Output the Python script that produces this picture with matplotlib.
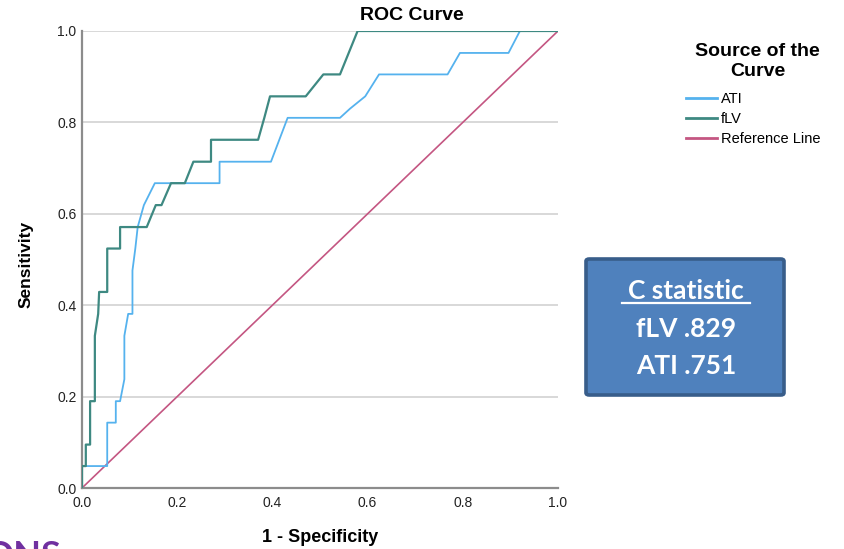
import matplotlib.pyplot as plt
from matplotlib.patches import FancyBboxPatch
from matplotlib.lines import Line2D

# ---------------------------------------------------------
# ROC DATA
# ---------------------------------------------------------

ati_fpr = [0, 0, 0.053, 0.053, 0.071, 0.071, 0.080, 0.089, 0.089, 0.097,
           0.106, 0.106, 0.112, 0.117, 0.130, 0.153, 0.289, 0.289, 0.397,
           0.432, 0.542, 0.563, 0.595, 0.624, 0.768, 0.794, 0.896, 0.920, 1.0]
ati_tpr = [0, 0.048, 0.048, 0.143, 0.143, 0.190, 0.190, 0.238, 0.333, 0.381,
           0.381, 0.476, 0.524, 0.571, 0.619, 0.667, 0.667, 0.714, 0.714,
           0.810, 0.810, 0.830, 0.857, 0.905, 0.905, 0.952, 0.952, 1.0, 1.0]

flv_fpr = [0, 0, 0.008, 0.008, 0.017, 0.017, 0.027, 0.027, 0.034, 0.036,
           0.053, 0.053, 0.080, 0.080, 0.136, 0.155, 0.167, 0.187, 0.216,
           0.234, 0.271, 0.271, 0.370, 0.383, 0.395, 0.470, 0.507, 0.542,
           0.579, 1.0]
flv_tpr = [0, 0.048, 0.048, 0.095, 0.095, 0.190, 0.190, 0.333, 0.381, 0.429,
           0.429, 0.524, 0.524, 0.571, 0.571, 0.619, 0.619, 0.667, 0.667,
           0.714, 0.714, 0.762, 0.762, 0.810, 0.857, 0.857, 0.905, 0.905,
           1.0, 1.0]

ref_x = [0, 1]
ref_y = [0, 1]

ticks = [0.0, 0.2, 0.4, 0.6, 0.8, 1.0]
tick_labels = ["0.0", "0.2", "0.4", "0.6", "0.8", "1.0"]

series_names = ["ATI", "fLV", "Reference Line"]
stat_lines = ["C statistic", "fLV .829", "ATI .751"]

# ---------------------------------------------------------
# FIGURE
# ---------------------------------------------------------

W, H = 844, 549
plt.rcParams["font.family"] = ["Liberation Sans", "DejaVu Sans"]

fig = plt.figure(figsize=(W / 100, H / 100), dpi=100)
ax = fig.add_axes([82 / W, 1 - 488 / H, (558 - 82) / W, (488 - 31) / H])


def fx(px):
    return px / W


def fy(py):
    return 1 - py / H


ax.plot(ati_fpr, ati_tpr, color="#55b2ee", lw=1.3, label=series_names[0], zorder=3)
ax.plot(flv_fpr, flv_tpr, color="#3e8982", lw=1.6, label=series_names[1], zorder=4)
ax.plot(ref_x, ref_y, color="#c45682", lw=1.2, label=series_names[2], zorder=2)

ax.set_xlim(0, 1)
ax.set_ylim(0, 1)
ax.set_xticks(ticks)
ax.set_xticklabels(tick_labels)
ax.set_yticks(ticks)
ax.set_yticklabels(tick_labels)
ax.tick_params(length=0, labelsize=10, colors="#222222")
ax.tick_params(axis="x", pad=6)
ax.tick_params(axis="y", pad=4)

ax.grid(axis="y", color="#d2d2d2", lw=1.2)
ax.set_axisbelow(True)
for side in ["top", "right"]:
    ax.spines[side].set_visible(False)
for side in ["left", "bottom"]:
    ax.spines[side].set_color("#8c8c8c")
    ax.spines[side].set_linewidth(1.6)

# titles / axis labels
fig.text(fx(412), fy(15), "ROC Curve", ha="center", va="center",
         fontsize=14, fontweight="bold")
fig.text(fx(320), fy(538), "1 - Specificity", ha="center", va="center",
         fontsize=13, fontweight="bold")
fig.text(fx(26), fy(264), "Sensitivity", ha="center", va="center",
         rotation=90, fontsize=12.5, fontweight="bold")

# legend (title drawn separately so it can sit higher, centred)
fig.text(fx(757), fy(51), "Source of the", ha="center", va="center",
         fontsize=14, fontweight="bold")
fig.text(fx(758), fy(71), "Curve", ha="center", va="center",
         fontsize=14, fontweight="bold")
leg = fig.legend(loc="upper left", bbox_to_anchor=(fx(686), fy(92)),
                 frameon=False, fontsize=10.5,
                 handlelength=2.1, handletextpad=0.3, labelspacing=0.4,
                 borderpad=0, borderaxespad=0)
for line in leg.get_lines():
    line.set_linewidth(2)

# C statistic box
box = FancyBboxPatch((fx(586), fy(395)), (784 - 586) / W, (395 - 259) / H,
                     boxstyle="round,pad=0,rounding_size=0.004",
                     transform=fig.transFigure, facecolor="#4f81bd",
                     edgecolor="#385d8a", lw=2.6)
fig.patches.append(box)

box_font = ["Lato", "DejaVu Sans"]
fig.text(fx(686), fy(299), stat_lines[0], ha="center", va="baseline",
         fontsize=19, fontweight="bold", color="white", family=box_font)
fig.add_artist(Line2D([fx(622), fx(750)], [fy(303), fy(303)], color="white", lw=1.6))
fig.text(fx(686), fy(337), stat_lines[1], ha="center", va="baseline",
         fontsize=19, fontweight="bold", color="white", family=box_font)
fig.text(fx(686), fy(374), stat_lines[2], ha="center", va="baseline",
         fontsize=19, fontweight="bold", color="white", family=box_font)

# slide heading cut off at the bottom edge
fig.text(fx(61), fy(540), "ONS", ha="right", va="top", fontsize=26,
         fontweight="bold", color="#7030a0", family=box_font)

fig.savefig("out.png", dpi=100)
